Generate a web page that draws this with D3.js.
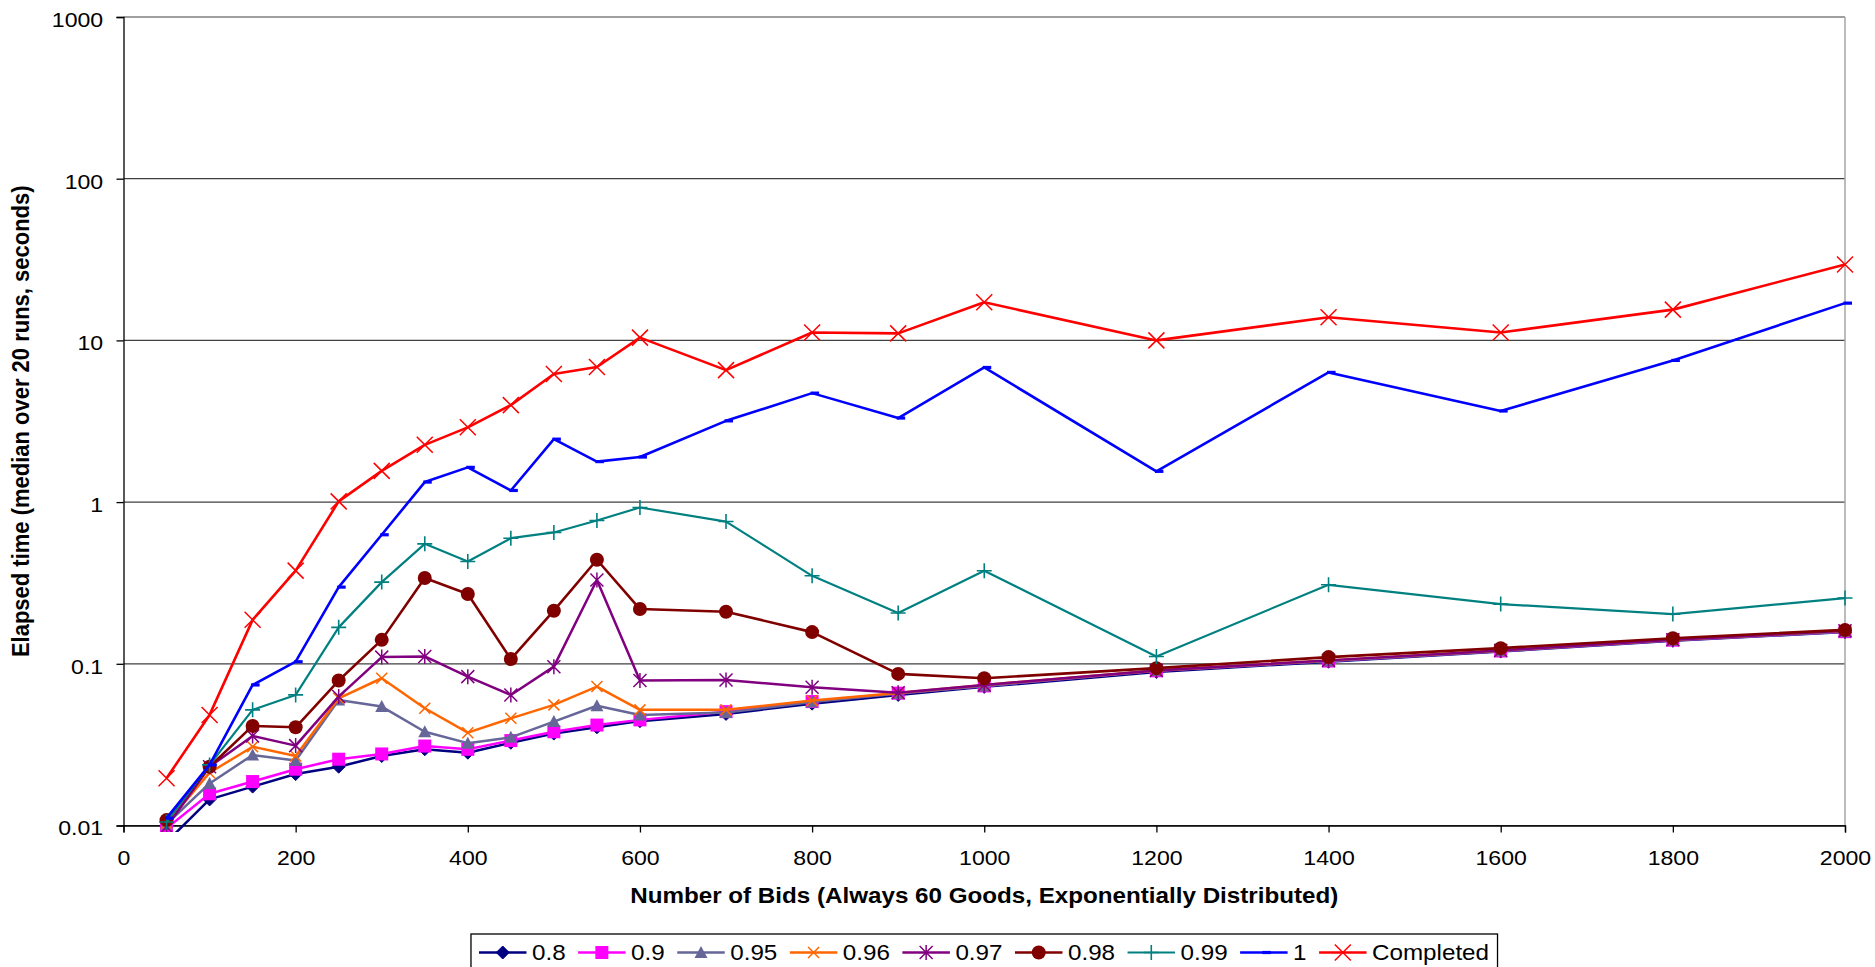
<!DOCTYPE html>
<html>
<head>
<meta charset="utf-8">
<script src="https://cdn.jsdelivr.net/npm/d3@7/dist/d3.min.js"></script>
<style>
  html, body { margin: 0; padding: 0; background: #fff; }
  svg { display: block; font-family: "Liberation Sans", Arial, sans-serif; }
</style>
</head>
<body>
<svg id="chart" width="1875" height="967"></svg>
<script>
// Number of bids on the x axis
const bids = [50, 100, 150, 200, 250, 300, 350, 400, 450, 500, 550, 600, 700, 800, 900, 1000, 1200, 1400, 1600, 1800, 2000];

// Median elapsed time (seconds) per approximation ratio
const t080 = [0.0079, 0.0145, 0.0174, 0.0208, 0.0231, 0.0269, 0.0296, 0.0282, 0.0325, 0.037, 0.0405, 0.0442, 0.049, 0.0567, 0.0642, 0.072, 0.089, 0.103, 0.119, 0.139, 0.157];
const t090 = [0.0096, 0.0157, 0.0187, 0.0223, 0.0257, 0.0277, 0.031, 0.0296, 0.0335, 0.038, 0.0418, 0.045, 0.0506, 0.0584, 0.0658, 0.073, 0.0905, 0.104, 0.12, 0.14, 0.158];
const t095 = [0.0102, 0.0182, 0.0273, 0.0252, 0.0598, 0.0544, 0.038, 0.0323, 0.0351, 0.0439, 0.055, 0.0483, 0.0499, 0.058, 0.0655, 0.073, 0.0905, 0.104, 0.12, 0.14, 0.158];
const t096 = [0.0103, 0.0212, 0.0307, 0.0269, 0.0612, 0.0814, 0.0531, 0.0375, 0.046, 0.0557, 0.0723, 0.0519, 0.0519, 0.0592, 0.066, 0.074, 0.091, 0.105, 0.121, 0.141, 0.16];
const t097 = [0.0098, 0.0231, 0.0358, 0.0312, 0.0627, 0.11, 0.111, 0.0833, 0.0642, 0.096, 0.33, 0.0788, 0.0795, 0.0716, 0.0663, 0.074, 0.091, 0.105, 0.121, 0.141, 0.16];
const t098 = [0.0108, 0.0231, 0.0413, 0.0405, 0.0788, 0.1406, 0.339, 0.27, 0.107, 0.213, 0.44, 0.218, 0.21, 0.157, 0.0866, 0.0814, 0.094, 0.11, 0.125, 0.144, 0.162];
const t099 = [0.0105, 0.0237, 0.0519, 0.0642, 0.168, 0.32, 0.552, 0.429, 0.598, 0.649, 0.769, 0.926, 0.758, 0.35, 0.206, 0.376, 0.111, 0.308, 0.234, 0.203, 0.255];
const t100 = [0.0111, 0.0237, 0.074, 0.103, 0.298, 0.628, 1.33, 1.64, 1.18, 2.45, 1.78, 1.9, 3.18, 4.72, 3.31, 6.8, 1.55, 6.34, 3.66, 7.52, 17.0];
const tCompleted = [0.0196, 0.0483, 0.187, 0.377, 1.01, 1.56, 2.26, 2.9, 3.98, 6.2, 6.85, 10.4, 6.55, 11.2, 11.05, 17.2, 10.0, 13.9, 11.2, 15.5, 29.5];

const seriesNames = ["0.8", "0.9", "0.95", "0.96", "0.97", "0.98", "0.99", "1", "Completed"];
const seriesValues = [t080, t090, t095, t096, t097, t098, t099, t100, tCompleted];
const seriesColors = ["#000080", "#FF00FF", "#666699", "#FF6600", "#800080", "#800000", "#008080", "#0000FF", "#FF0000"];
const seriesMarkers = ["diamond", "square", "triangle", "x", "asterisk", "circle", "plus", "dash", "bigx"];

const xTicks = [0, 200, 400, 600, 800, 1000, 1200, 1400, 1600, 1800, 2000];
const yTicks = [0.01, 0.1, 1, 10, 100, 1000];
const yTickLabels = ["0.01", "0.1", "1", "10", "100", "1000"];

const xTitle = "Number of Bids (Always 60 Goods, Exponentially Distributed)";
const yTitle = "Elapsed time (median over 20 runs, seconds)";

// Text in this chart is set slightly wide
const SX = 1.1;

const svg = d3.select("#chart");
const plotLeft = 123.5, plotRight = 1845, plotTop = 17, plotBottom = 825.5;

const x = d3.scaleLinear().domain([0, 2000]).range([plotLeft, plotRight]);
const y = d3.scaleLog().domain([0.01, 1000]).range([plotBottom, plotTop]);

// Horizontal gridlines at each decade
svg.append("g").selectAll("line").data(yTicks).join("line")
  .attr("x1", plotLeft).attr("x2", plotRight)
  .attr("y1", d => y(d)).attr("y2", d => y(d))
  .attr("stroke", "#404040").attr("stroke-width", 1.2);

// Right border of the plot area
svg.append("line")
  .attr("x1", plotRight).attr("x2", plotRight).attr("y1", plotTop).attr("y2", plotBottom)
  .attr("stroke", "#a6a6a6").attr("stroke-width", 1.5);

// Axes
const yAxis = svg.append("g").attr("transform", `translate(${plotLeft},0)`)
  .call(d3.axisLeft(y).tickValues(yTicks).tickFormat((d, i) => yTickLabels[i]).tickSize(7).tickPadding(11.5));
const xAxis = svg.append("g").attr("transform", `translate(0,${plotBottom})`)
  .call(d3.axisBottom(x).tickValues(xTicks).tickFormat(d3.format("d")).tickSize(7).tickPadding(17.5));

[yAxis, xAxis].forEach(a => {
  a.select(".domain").attr("stroke", "#000").attr("stroke-width", 1.3);
  a.selectAll(".tick line").attr("stroke", "#000").attr("stroke-width", 1.3);
  a.selectAll(".tick text")
    .attr("font-size", 21).attr("fill", "#000")
    .attr("font-family", "'Liberation Sans', Arial, sans-serif")
    .attr("transform", `scale(${SX},1)`);
});
yAxis.selectAll(".tick text").attr("dy", "0.45em");

// Axis titles
svg.append("text")
  .attr("transform", `translate(${(plotLeft + plotRight) / 2},903) scale(${SX},1)`)
  .attr("text-anchor", "middle").attr("font-size", 22).attr("font-weight", "bold")
  .text(xTitle);
svg.append("text")
  .attr("transform", `translate(29,${(plotTop + plotBottom) / 2}) scale(${SX},1) rotate(-90)`)
  .attr("text-anchor", "middle").attr("font-size", 22).attr("font-weight", "bold")
  .text(yTitle);

// Marker drawing
function drawMarker(g, type, color) {
  switch (type) {
    case "diamond":
      g.append("path").attr("d", "M0,-6.5L6.5,0L0,6.5L-6.5,0Z").attr("fill", color).attr("stroke", color);
      break;
    case "square":
      g.append("rect").attr("x", -6.5).attr("y", -6.5).attr("width", 13).attr("height", 13).attr("fill", color);
      break;
    case "triangle":
      g.append("path").attr("d", "M0,-6.5L6.5,5.5L-6.5,5.5Z").attr("fill", color);
      break;
    case "x":
      g.append("path").attr("d", "M-5.5,-5.5L5.5,5.5M-5.5,5.5L5.5,-5.5").attr("stroke", color).attr("stroke-width", 1.5).attr("fill", "none");
      break;
    case "asterisk":
      g.append("path").attr("d", "M-6.5,-6.5L6.5,6.5M-6.5,6.5L6.5,-6.5M0,-7.5L0,7.5").attr("stroke", color).attr("stroke-width", 1.5).attr("fill", "none");
      break;
    case "circle":
      g.append("circle").attr("r", 7).attr("fill", color);
      break;
    case "plus":
      g.append("path").attr("d", "M-7.5,0L7.5,0M0,-7.5L0,7.5").attr("stroke", color).attr("stroke-width", 1.6).attr("fill", "none");
      break;
    case "dash":
      g.append("rect").attr("x", -1.5).attr("y", -1.6).attr("width", 8.5).attr("height", 3.2).attr("fill", color);
      break;
    case "bigx":
      g.append("path").attr("d", "M-8,-8L8,8M-8,8L8,-8").attr("stroke", color).attr("stroke-width", 1.5).attr("fill", "none");
      break;
  }
}

// Clip the series to the plot area
svg.append("defs").append("clipPath").attr("id", "plotClip")
  .append("rect").attr("x", plotLeft - 20).attr("y", plotTop - 20)
  .attr("width", plotRight - plotLeft + 40).attr("height", plotBottom - plotTop + 26.5);

const plot = svg.append("g").attr("clip-path", "url(#plotClip)");
const line = d3.line().x(d => x(d[0])).y(d => y(d[1]));
const lineWidths = [2.5, 2.5, 2.5, 2.5, 2.5, 2.6, 2.2, 2.6, 2.6];

seriesValues.forEach((vals, i) => {
  const pts = bids.map((b, j) => [b, vals[j]]);
  const g = plot.append("g");
  g.append("path").datum(pts).attr("d", line)
    .attr("fill", "none").attr("stroke", seriesColors[i])
    .attr("stroke-width", lineWidths[i]).attr("stroke-linejoin", "round");
  pts.forEach(p => {
    const m = g.append("g").attr("transform", `translate(${x(p[0])},${y(p[1])})`);
    drawMarker(m, seriesMarkers[i], seriesColors[i]);
  });
});

// Legend
const legend = svg.append("g");
const legendY = 952.5;
const items = [];
let cursor = 0;
seriesNames.forEach((name, i) => {
  const g = legend.append("g");
  g.append("line").attr("x1", 0).attr("x2", 47.5).attr("y1", 0).attr("y2", 0)
    .attr("stroke", seriesColors[i]).attr("stroke-width", lineWidths[i]);
  const m = g.append("g").attr("transform", "translate(23.75,0)");
  drawMarker(m, seriesMarkers[i], seriesColors[i]);
  const t = g.append("text").attr("font-size", 22).attr("dy", "0.36em")
    .attr("transform", `translate(53,0) scale(${SX},1)`).text(name);
  const w = t.node().getComputedTextLength() * SX;
  items.push({ g, x: cursor });
  cursor += 53 + w + 12.5;
});
cursor -= 12.5;
const padL = 8, padR = 8.5;
const boxW = padL + cursor + padR;
const boxX = (plotLeft + plotRight) / 2 - boxW / 2;
legend.insert("rect", ":first-child")
  .attr("x", boxX).attr("y", 934).attr("width", boxW).attr("height", 38)
  .attr("fill", "#fff").attr("stroke", "#000").attr("stroke-width", 1.3);
items.forEach(it => it.g.attr("transform", `translate(${boxX + padL + it.x},${legendY})`));
</script>
</body>
</html>
